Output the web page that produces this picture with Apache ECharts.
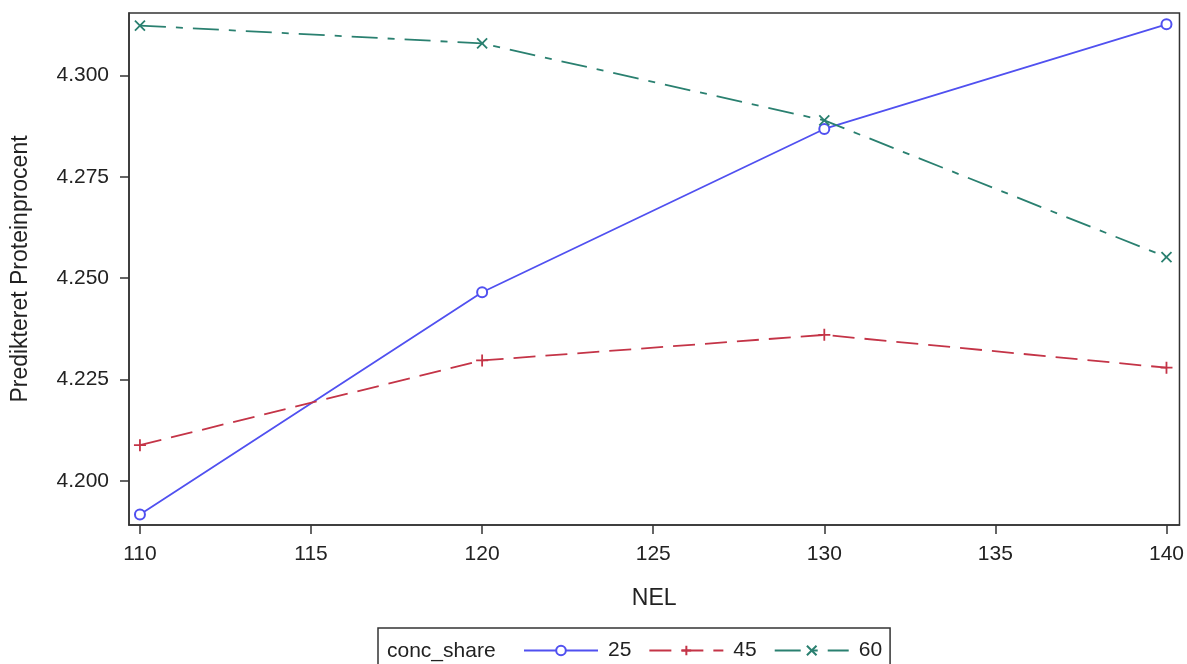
<!DOCTYPE html>
<html>
<head>
<meta charset="utf-8">
<script src="https://cdn.jsdelivr.net/npm/echarts@6/dist/echarts.min.js"></script>
<style>
html,body{margin:0;padding:0;background:#fff;}
#chart{width:1187px;height:664px;}
</style>
</head>
<body>
<div id="chart"></div>
<script>
// Data
const nel = [110, 120, 130, 140];
const s25 = [4.1917, 4.2465, 4.2868, 4.3126];
const s45 = [4.2088, 4.2297, 4.2360, 4.2279];
const s60 = [4.3123, 4.3079, 4.2889, 4.2552];
const xTicks = [110, 115, 120, 125, 130, 135, 140];
const yTicks = [4.200, 4.225, 4.250, 4.275, 4.300];
const seriesNames = ['25', '45', '60'];
const legendTitle = 'conc_share';
const xTitle = 'NEL';
const yTitle = 'Predikteret Proteinprocent';

const FONT = 'Arial, "Liberation Sans", sans-serif';
const colors = ['#5050F0', '#C43447', '#2A8070'];
const plusPath = 'path://M0,5L10,5M5,0L5,10';
const xPath = 'path://M0,0L10,10M10,0L0,10';

function pairs(xs, ys){ return xs.map((x,i)=>[x, ys[i]]); }

const chart = echarts.init(document.getElementById('chart'), null, {renderer:'canvas'});
const option = {
  animation: false,
  backgroundColor: '#fff',
  grid: {left: 129, top: 13, right: 7, bottom: 139, show: true, borderColor: '#333', borderWidth: 1.5, containLabel: false},
  xAxis: {
    type: 'value', min: 109.68, max: 140.38,
    name: xTitle, nameLocation: 'middle', nameGap: 62,
    nameTextStyle: {fontFamily: FONT, fontSize: 23, color: '#222'},
    axisLine: {show: true, lineStyle: {color: '#333', width: 1.5}},
    axisTick: {show: true, length: 9, customValues: xTicks, lineStyle: {color: '#333', width: 1.5}},
    axisLabel: {customValues: xTicks, margin: 19, fontFamily: FONT, fontSize: 21, color: '#222'},
    splitLine: {show: false}
  },
  yAxis: {
    type: 'value', min: 4.1891, max: 4.3154,
    name: yTitle, nameLocation: 'middle', nameGap: 97,
    nameTextStyle: {fontFamily: FONT, fontSize: 23, color: '#222'},
    axisLine: {show: true, lineStyle: {color: '#333', width: 1.5}},
    axisTick: {show: true, length: 9, customValues: yTicks, lineStyle: {color: '#333', width: 1.5}},
    axisLabel: {customValues: yTicks, margin: 20, fontFamily: FONT, fontSize: 21, color: '#222',
      formatter: v => Number(v).toFixed(3)},
    splitLine: {show: false}
  },
  legend: {
    left: 378, top: 628,
    padding: [12, 8, 9, 145],
    borderColor: '#333', borderWidth: 1.5,
    itemWidth: 74, itemHeight: 12, itemGap: 17,
    textStyle: {fontFamily: FONT, fontSize: 21, color: '#222', padding: [0, 0, 0, 5]},
    data: seriesNames
  },
  graphic: [{
    type: 'text', left: 387, top: 641,
    style: {text: legendTitle, font: '21px ' + FONT, fill: '#222'}
  }],
  series: [
    {name: seriesNames[0], type: 'line', data: pairs(nel, s25), symbol: 'emptyCircle', symbolSize: 10,
      lineStyle: {color: colors[0], width: 1.8, type: 'solid'},
      itemStyle: {color: colors[0], borderColor: colors[0], borderWidth: 1.5}},
    {name: seriesNames[1], type: 'line', data: pairs(nel, s45), symbol: plusPath, symbolSize: 12,
      lineStyle: {color: colors[1], width: 1.8, type: [22, 10]},
      itemStyle: {color: colors[1], borderColor: colors[1], borderWidth: 1.8}},
    {name: seriesNames[2], type: 'line', data: pairs(nel, s60), symbol: xPath, symbolSize: 10,
      lineStyle: {color: colors[2], width: 1.8, type: [26, 10, 7, 10]},
      itemStyle: {color: colors[2], borderColor: colors[2], borderWidth: 1.8}}
  ]
};
chart.setOption(option);
</script>
</body>
</html>
